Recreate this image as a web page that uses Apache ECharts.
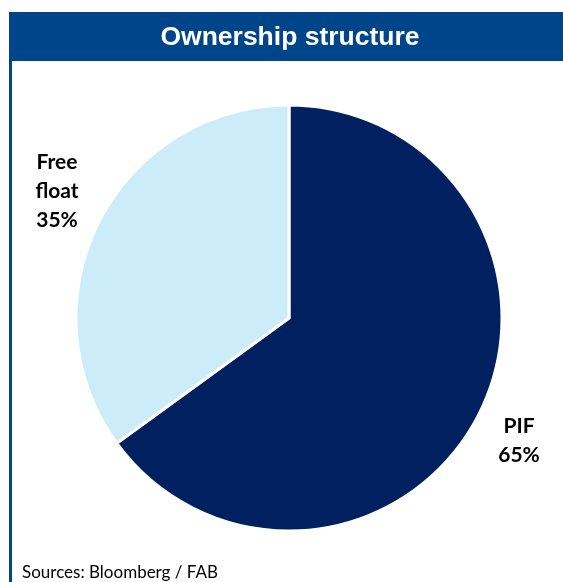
<!DOCTYPE html>
<html>
<head>
<meta charset="utf-8">
<script src="https://cdn.jsdelivr.net/npm/echarts@6/dist/echarts.min.js"></script>
<style>
html,body{margin:0;padding:0;background:#fff;}
#chart{width:563px;height:582px;}
</style>
</head>
<body>
<div id="chart"></div>
<script>
const titleText = 'Ownership structure';
const sourceText = 'Sources: Bloomberg / FAB';
const categories = ['PIF', 'Free float'];
const values = [65, 35];
const colors = ['#002060', '#CCECFA'];

const labelPos = [
  {x: 519, y: 441},
  {x: 57, y: 191}
];

const chart = echarts.init(document.getElementById('chart'), null, {renderer: 'canvas'});
chart.setOption({
  animation: false,
  backgroundColor: '#fff',
  graphic: [
    {type: 'rect', shape: {x: 9, y: 12, width: 560, height: 49}, style: {fill: '#004489'}, z: 10},
    {type: 'rect', shape: {x: 9, y: 60, width: 3, height: 530}, style: {fill: '#004489'}, z: 10},
    {type: 'text', x: 290, y: 38, style: {text: titleText, fill: '#fff', font: 'bold 26.5px "Liberation Sans", Arial, sans-serif', textAlign: 'center', textVerticalAlign: 'middle'}, z: 11},
    {type: 'text', x: 22, y: 573, style: {text: sourceText, fill: '#000', font: '17px Lato, sans-serif', textAlign: 'left', textVerticalAlign: 'middle'}, z: 11}
  ],
  series: [{
    type: 'pie',
    center: [289, 318],
    radius: [0, 213],
    startAngle: 90,
    clockwise: true,
    data: categories.map((c, i) => ({name: c, value: values[i], itemStyle: {color: colors[i]}})),
    itemStyle: {borderColor: '#fff', borderWidth: 3},
    label: {
      show: true,
      position: 'outside',
      formatter: p => p.name.replace(' ', '\n') + '\n' + p.value + '%',
      color: '#000',
      fontFamily: 'Lato, sans-serif',
      fontWeight: 'bold',
      fontSize: 21,
      lineHeight: 29,
      align: 'center',
      overflow: 'none',
      width: 80
    },
    labelLine: {show: false},
    labelLayout: function (params) {
      const p = labelPos[params.dataIndex];
      return {x: p.x, y: p.y, align: 'center', verticalAlign: 'middle'};
    },
    emphasis: {disabled: true}
  }]
});
</script>
</body>
</html>
